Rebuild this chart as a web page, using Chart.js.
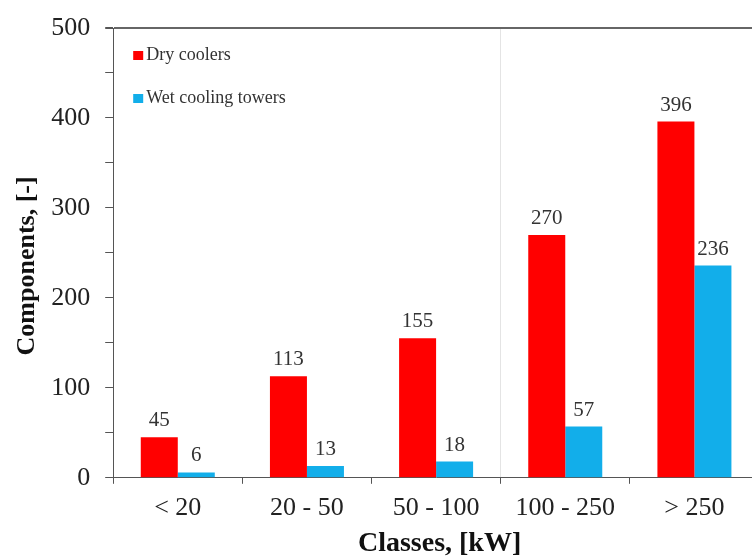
<!DOCTYPE html>
<html>
<head>
<meta charset="utf-8">
<script src="https://cdn.jsdelivr.net/npm/chart.js@4"></script>
<style>
  html, body { margin: 0; padding: 0; background: #fff; overflow: hidden; }
  #wrap { width: 762px; height: 558px; }
</style>
</head>
<body>
<div id="wrap"><canvas id="grafico"></canvas></div>
<script>
const categories = ['< 20', '20 - 50', '50 - 100', '100 - 250', '> 250'];
const dryCoolers = [45, 113, 155, 270, 396];
const wetTowers = [6, 13, 18, 57, 236];
const yTicks = [0, 100, 200, 300, 400, 500];

Chart.defaults.font.family = '"Liberation Serif", "DejaVu Serif", serif';
Chart.defaults.color = '#222';

// numbers above the bars
const valueLabels = {
  id: 'valueLabels',
  afterDatasetsDraw(chart) {
    const c = chart.ctx;
    c.save();
    c.font = '21px "Liberation Serif", serif';
    c.fillStyle = '#333';
    c.textAlign = 'center';
    c.textBaseline = 'bottom';
    chart.data.datasets.forEach((ds, i) => {
      chart.getDatasetMeta(i).data.forEach((bar, j) => {
        c.fillText(ds.data[j], bar.x, bar.y - 6);
      });
    });
    c.restore();
  }
};

// legend drawn inside the plot, top left
const innerLegend = {
  id: 'innerLegend',
  afterDraw(chart) {
    const c = chart.ctx;
    const area = chart.chartArea;
    c.save();
    c.font = '18px "Liberation Serif", serif';
    c.textBaseline = 'middle';
    chart.data.datasets.forEach((ds, i) => {
      const y = area.top + 27 + i * 43;
      c.fillStyle = ds.backgroundColor;
      c.fillRect(area.left + 20, y - 4, 10, 9);
      c.fillStyle = '#333';
      c.fillText(ds.label, area.left + 33, y);
    });
    c.restore();
  }
};

const data = {
  labels: categories,
  datasets: [
    { label: 'Dry coolers', data: dryCoolers, backgroundColor: '#ff0000' },
    { label: 'Wet cooling towers', data: wetTowers, backgroundColor: '#12aeea' }
  ]
};

const config = {
  type: 'bar',
  data,
  options: {
    responsive: true,
    maintainAspectRatio: false,
    animation: false,
    layout: { padding: { top: 20, right: 3, left: 0, bottom: 0 } },
    datasets: { bar: { categoryPercentage: 0.573, barPercentage: 1.0 } },
    plugins: { legend: { display: false }, tooltip: { enabled: false } },
    scales: {
      x: {
        offset: true,
        grid: {
          offset: true,
          tickLength: 6,
          color: ctx => ctx.index === 3 ? '#e4e4e4' : 'rgba(0,0,0,0)',
          tickColor: '#555'
        },
        border: { color: '#555', width: 1 },
        ticks: { font: { size: 26 }, color: '#222', padding: 9 },
        title: {
          display: true, text: ' Classes, [kW]',
          font: { size: 28, weight: 'bold', lineHeight: 1 }, color: '#111',
          padding: { top: -3, bottom: 0 }
        }
      },
      y: {
        min: 0,
        max: 500,
        ticks: {
          stepSize: 50,
          font: { size: 26, lineHeight: 1 },
          color: '#222',
          padding: 15,
          callback: v => yTicks.includes(v) ? v : ''
        },
        grid: {
          tickLength: 8,
          color: ctx => ctx.tick && ctx.tick.value === 500 ? '#666' : 'rgba(0,0,0,0)',
          tickColor: '#555',
          lineWidth: ctx => ctx.tick && ctx.tick.value === 500 ? 2 : 1
        },
        border: { color: '#555', width: 1 },
        title: {
          display: true, text: 'Components, [-]    ',
          font: { size: 26, weight: 'bold' }, color: '#111',
          padding: { top: 12, bottom: -7 }
        }
      }
    }
  },
  plugins: [valueLabels, innerLegend]
};

new Chart(document.getElementById('grafico'), config);
</script>
</body>
</html>
